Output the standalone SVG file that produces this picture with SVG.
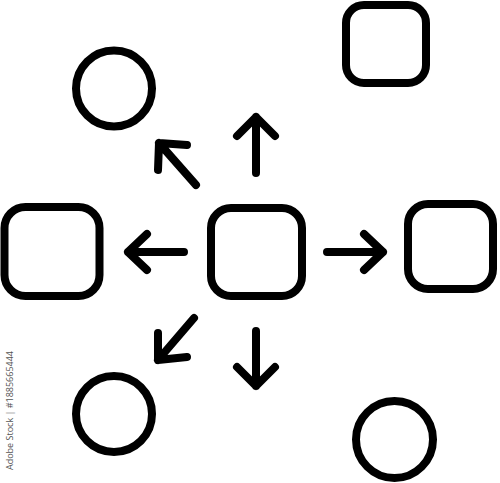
<svg xmlns="http://www.w3.org/2000/svg" width="500" height="483" viewBox="0 0 500 483">
<style>
.n{fill:none;stroke:#000;stroke-width:8}
.a{fill:none;stroke:#000;stroke-width:8;stroke-linecap:round;stroke-linejoin:round}
.wm{font-family:"Open Sans","DejaVu Sans",sans-serif;font-size:9px;fill:#555}
</style>
<rect width="500" height="483" fill="#fff"/>
<g id="center"><rect class="n" x="211" y="208" width="91" height="88" rx="20"/></g>
<g id="left"><rect class="n" x="4.5" y="207" width="95" height="89" rx="21"/></g>
<g id="right"><rect class="n" x="408" y="204" width="85" height="85" rx="20"/></g>
<g id="topright"><rect class="n" x="346" y="5" width="80" height="78" rx="18"/></g>
<g id="circle-tl"><circle class="n" cx="114" cy="88.5" r="38"/></g>
<g id="circle-bl"><circle class="n" cx="114" cy="414" r="38"/></g>
<g id="circle-br"><circle class="n" cx="394.5" cy="439.5" r="38.5"/></g>
<g id="connectors">
<path class="a" d="M256 173V117M237 136L256 117L275 136"/>
<path class="a" d="M196 185L159 143M159 143L187 145M159 143L158 170"/>
<path class="a" d="M184 252H128M147 234L128 252L147 270"/>
<path class="a" d="M327 252H383M364 234L383 252L364 270"/>
<path class="a" d="M256 331V386M237 367L256 386L275 367"/>
<path class="a" d="M194 318L158 360M158 360L158 333M158 360L187 357"/>
</g>
<text class="wm" transform="translate(13,470) rotate(-90)">Adobe Stock | #1885665444</text>
</svg>
